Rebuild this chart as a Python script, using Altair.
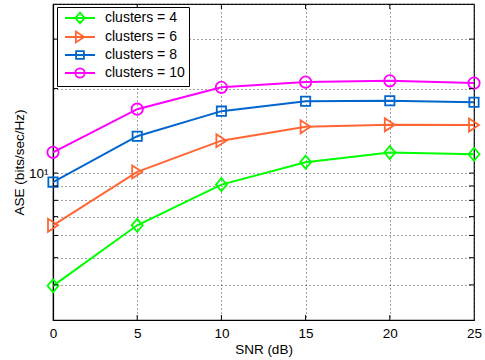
import altair as alt
import pandas as pd

snr = [0, 5, 10, 15, 20, 25]
ase_c4 = [3.97, 6.52, 9.10, 10.94, 11.83, 11.67]
ase_c6 = [6.52, 10.1, 13.05, 14.62, 14.86, 14.83]
ase_c8 = [9.29, 13.53, 16.62, 18.03, 18.11, 17.88]
ase_c10 = [11.86, 16.89, 20.2, 21.09, 21.31, 20.92]
series_names = ["clusters = 4", "clusters = 6", "clusters = 8", "clusters = 10"]
colors = ["#00FF00", "#FF6633", "#0066CC", "#FF00FF"]
x_ticks = [0, 5, 10, 15, 20, 25]
y_ticks = [3, 4, 5, 6, 7, 8, 9, 10, 20, 30, 40]

rows = []
for name, vals in zip(series_names, [ase_c4, ase_c6, ase_c8, ase_c10]):
    for s, v in zip(snr, vals):
        rows.append({"SNR": s, "ASE": v, "series": name})
df = pd.DataFrame(rows)

W, H = 421, 316
FONT = "Liberation Sans"

xscale = alt.Scale(domain=[0, 25], nice=False, zero=False)
yscale = alt.Scale(type="log", domain=[3, 40], nice=False)
color_scale = alt.Scale(domain=series_names, range=colors)

# data markers (shape, size)
markers = [
    ("M0,-1L0.846,0L0,1L-0.846,0Z", 169),
    ("M-0.77,-1L0.77,0L-0.77,1Z", 169),
    ("square", 86),
    ("circle", 128),
]
legend_paths = [
    "M-3,0H3M0,-1.08L0.92,0L0,1.08L-0.92,0Z",
    "M-3,0H3M-0.83,-1.08L0.83,0L-0.83,1.08Z",
    "M-3,0H3M-0.78,-0.78H0.78V0.78H-0.78Z",
    "M-3,0H3M0.94,0A0.94,0.94 0 1,1 -0.94,0A0.94,0.94 0 1,1 0.94,0",
]

x_axis = alt.Axis(values=x_ticks, title="SNR (dB)", grid=True, ticks=False,
                  labelFontSize=13.5, labelPadding=6, titleFontSize=13.5,
                  titleFontWeight="normal", titlePadding=3, labelFlush=False)
y_axis = alt.Axis(values=y_ticks, title="ASE (bits/sec/Hz)", grid=True, ticks=False,
                  labelExpr="datum.value == 10 ? '10¹' : ''", labelFontSize=13.5,
                  labelPadding=5, titleFontSize=13.5, titleFontWeight="normal",
                  titlePadding=2)

layers = []
for i, (name, col) in enumerate(zip(series_names, colors)):
    sub = df[df["series"] == name]
    shp, sz = markers[i]
    enc_x = alt.X("SNR:Q", scale=xscale, axis=x_axis) if i == 0 else alt.X("SNR:Q", scale=xscale)
    enc_y = alt.Y("ASE:Q", scale=yscale, axis=y_axis) if i == 0 else alt.Y("ASE:Q", scale=yscale)
    layers.append(alt.Chart(sub).mark_line(strokeWidth=2, color=col).encode(x=enc_x, y=enc_y))
    layers.append(alt.Chart(sub).mark_point(filled=False, strokeWidth=1.8, size=sz,
                                            shape=shp, color=col, opacity=1).encode(
        x="SNR:Q", y="ASE:Q"))

leg = alt.Legend(title=None, orient="none", legendX=4, legendY=3,
                 labelFontSize=14, labelFont=FONT, labelColor="black",
                 strokeColor="black", fillColor="white",
                 padding=4, symbolOffset=12, labelOffset=18, rowPadding=1,
                 symbolStrokeWidth=1.8)

legend_layer = alt.Chart(df).transform_filter("false").mark_point(
    filled=False, strokeWidth=1.8, size=144, opacity=1
).encode(
    x="SNR:Q",
    y="ASE:Q",
    color=alt.Color("series:N", scale=color_scale, legend=leg),
    shape=alt.Shape("series:N", scale=alt.Scale(domain=series_names, range=legend_paths), legend=leg),
)

xt = pd.DataFrame({"SNR": x_ticks[1:-1]})
yt = pd.DataFrame({"ASE": y_ticks[1:-1]})
tick_top = alt.Chart(xt).mark_rule(color="black").encode(x="SNR:Q", y=alt.value(0), y2=alt.value(5))
tick_bot = alt.Chart(xt).mark_rule(color="black").encode(x="SNR:Q", y=alt.value(H), y2=alt.value(H - 5))
tick_left = alt.Chart(yt).mark_rule(color="black").encode(y="ASE:Q", x=alt.value(0), x2=alt.value(5))
tick_right = alt.Chart(yt).mark_rule(color="black").encode(y="ASE:Q", x=alt.value(W), x2=alt.value(W - 5))

chart = alt.layer(*layers, tick_top, tick_bot, tick_left, tick_right, legend_layer).properties(
    width=W, height=H,
    autosize=alt.AutoSizeParams(type="none"),
    padding={"left": 53, "top": 4, "right": 11, "bottom": 40},
).configure(
    font=FONT,
).configure_view(
    stroke="black", strokeWidth=1.2,
).configure_axis(
    domainColor="black", domainWidth=1.2, gridColor="#444444", gridDash=[1, 3],
    gridWidth=1, gridOpacity=1, labelColor="black", titleColor="black",
    labelFont=FONT, titleFont=FONT,
)

chart.save("out.html", embed_options={"renderer": "svg", "actions": False})
